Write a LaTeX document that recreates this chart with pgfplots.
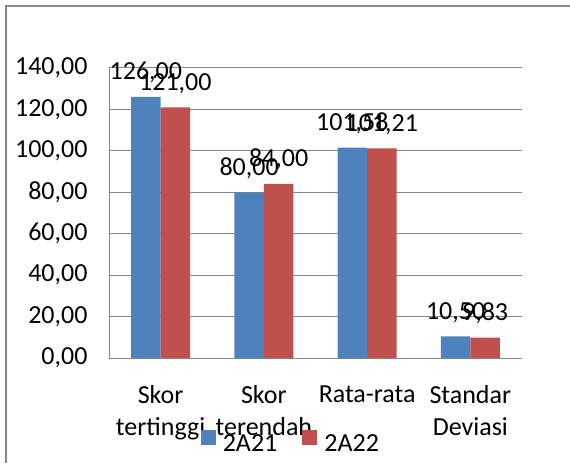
\documentclass[border=0pt]{standalone}
\usepackage{pgfplots}
\pgfplotsset{compat=1.18}
\usepackage{fontspec}
\setmainfont{Carlito}
\definecolor{cblue}{HTML}{4F81BD}
\definecolor{cred}{HTML}{C0504D}
\definecolor{gridc}{HTML}{878787}
\newcommand{\bigf}{\fontsize{26}{31.5}\selectfont}
\begin{document}
\begin{tikzpicture}[x=1pt,y=1pt]
\useasboundingbox (0,0) rectangle (570,463);
\draw[gridc, line width=1.5pt] (6,0) -- (6,457) -- (570,457);
\begin{axis}[
  at={(109pt,105pt)}, anchor=south west, scale only axis,
  width=413pt, height=290pt,
  ybar=0pt, bar width=29.5pt,
  xmin=-0.5, xmax=3.5, ymin=0, ymax=140,
  ytick={0,20,...,140},
  xtick={0,1,2,3},
  xticklabels={{Skor\\tertinggi},{Skor\\terendah},{Rata-rata},{Standar\\Deviasi}},
  axis x line*=bottom, axis y line*=left,
  axis line style={gridc, line width=1pt, -},
  ymajorgrids, grid style={gridc, line width=1pt},
  major tick length=0pt,
  /pgf/number format/.cd, fixed, fixed zerofill, precision=2, use comma, assume math mode=true,
  /pgfplots/.cd,
  yticklabel style={font=\bigf, xshift=-18pt},
  xticklabel style={font=\bigf, align=center, anchor=north, yshift=-24pt},
  nodes near coords,
  every node near coord/.append style={font=\bigf, anchor=base, yshift=17pt, text=black},
  legend style={at={(0.438,-0.288)}, anchor=center, draw=none, fill=none,
    legend columns=2, font=\bigf, nodes={inner sep=0pt},
    /tikz/every odd column/.append style={column sep=7pt},
    /tikz/every even column/.append style={column sep=25pt}},
  legend image code/.code={\fill[#1] (0pt,-1pt) rectangle (15pt,14pt);},
]
\addplot[fill=cblue, draw=none] coordinates {(0,126) (1,80) (2,101.58) (3,10.50)};
\addplot[fill=cred, draw=none] coordinates {(0,121) (1,84) (2,101.21) (3,9.83)};
\legend{2A21,2A22}
\end{axis}
\end{tikzpicture}
\end{document}
